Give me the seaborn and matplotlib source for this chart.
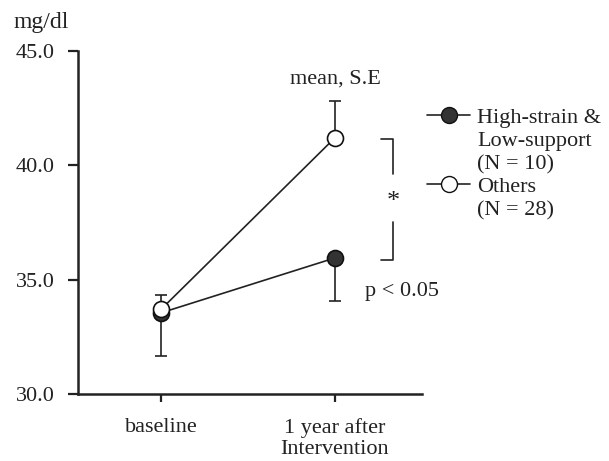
import matplotlib
matplotlib.use("Agg")
import matplotlib.pyplot as plt
from matplotlib.lines import Line2D
import seaborn as sns
import pandas as pd

times = ["baseline", "1 year after\nIntervention"]
high_mean = [33.55, 35.95]
high_se = [1.9, 1.9]
others_mean = [33.7, 41.2]
others_se = [0.65, 1.6]

df = pd.DataFrame({
    "x": [0, 1, 0, 1],
    "value": high_mean + others_mean,
    "group": ["high", "high", "others", "others"],
})

sns.set_style("ticks")
plt.rcParams["font.family"] = ["Liberation Serif", "DejaVu Serif"]
ink = "#222222"

fig = plt.figure(figsize=(6.09, 4.61), dpi=100)
ax = fig.add_axes([0.128, 0.145, 0.565, 0.745])

# error bars: high-strain downward, others upward
ax.errorbar([0, 1], high_mean, yerr=[high_se, [0, 0]], fmt="none",
            ecolor=ink, elinewidth=1.2, capsize=4, capthick=1.2, zorder=1)
ax.errorbar([0, 1], others_mean, yerr=[[0, 0], others_se], fmt="none",
            ecolor=ink, elinewidth=1.2, capsize=4, capthick=1.2, zorder=1)

sns.lineplot(data=df[df["group"] == "high"], x="x", y="value", ax=ax,
             color=ink, linewidth=1.2, marker="o", markersize=11.5,
             markerfacecolor="#333333", markeredgecolor="#111111",
             markeredgewidth=1.2, legend=False, zorder=3)
sns.lineplot(data=df[df["group"] == "others"], x="x", y="value", ax=ax,
             color=ink, linewidth=1.2, marker="o", markersize=11.5,
             markerfacecolor="white", markeredgecolor="#111111",
             markeredgewidth=1.2, legend=False, zorder=4)

ax.set_xlim(-0.477, 1.5)
ax.set_ylim(30, 45)
ax.set_xticks([0, 1])
ax.set_xticklabels(times, fontsize=16, linespacing=1.15, color=ink)
ax.set_yticks([30, 35, 40, 45])
ax.set_yticklabels(["30.0", "35.0", "40.0", "45.0"], fontsize=16, color=ink)
ax.set_xlabel("")
ax.set_ylabel("")
ax.tick_params(axis="y", direction="out", length=7, width=1.6, color=ink, pad=10)
ax.tick_params(axis="x", direction="out", length=6, width=1.6, color=ink, pad=11)
for s in ["left", "bottom"]:
    ax.spines[s].set_linewidth(1.8)
    ax.spines[s].set_color(ink)
sns.despine(ax=ax)

ax.text(-0.106, 1.082, "mg/dl", transform=ax.transAxes, fontsize=17,
        ha="center", va="center", color=ink)
ax.text(1.0, 43.75, "mean, S.E", fontsize=16, ha="center", va="center", color=ink)
ax.text(1.17, 34.5, "p < 0.05", fontsize=16, ha="left", va="center", color=ink)

# significance bracket
bx = 1.335
ax.plot([1.264, bx, bx], [41.15, 41.15, 39.6], color=ink, lw=1.2)
ax.plot([1.264, bx, bx], [35.85, 35.85, 37.5], color=ink, lw=1.2)
ax.text(bx, 38.4, "*", fontsize=19, ha="center", va="center", color=ink)

# legend: handle sits on the first line of each label
h_high = Line2D([], [], color=ink, lw=1.2, marker="o", markersize=11.5,
                markerfacecolor="#333333", markeredgecolor="#111111")
h_oth = Line2D([], [], color=ink, lw=1.2, marker="o", markersize=11.5,
               markerfacecolor="white", markeredgecolor="#111111")
blank = Line2D([], [], color="none")
handles = [h_high, blank, blank, h_oth, blank]
labels = ["High-strain &", "Low-support", "(N = 10)", "Others", "(N = 28)"]
leg = ax.legend(handles, labels, loc="upper left", bbox_to_anchor=(0.99, 0.862),
                frameon=False, fontsize=16, handlelength=1.9, handletextpad=0.35,
                labelspacing=0.12, borderaxespad=0)
for t in leg.get_texts():
    t.set_color(ink)

fig.savefig("out.png", dpi=100)
